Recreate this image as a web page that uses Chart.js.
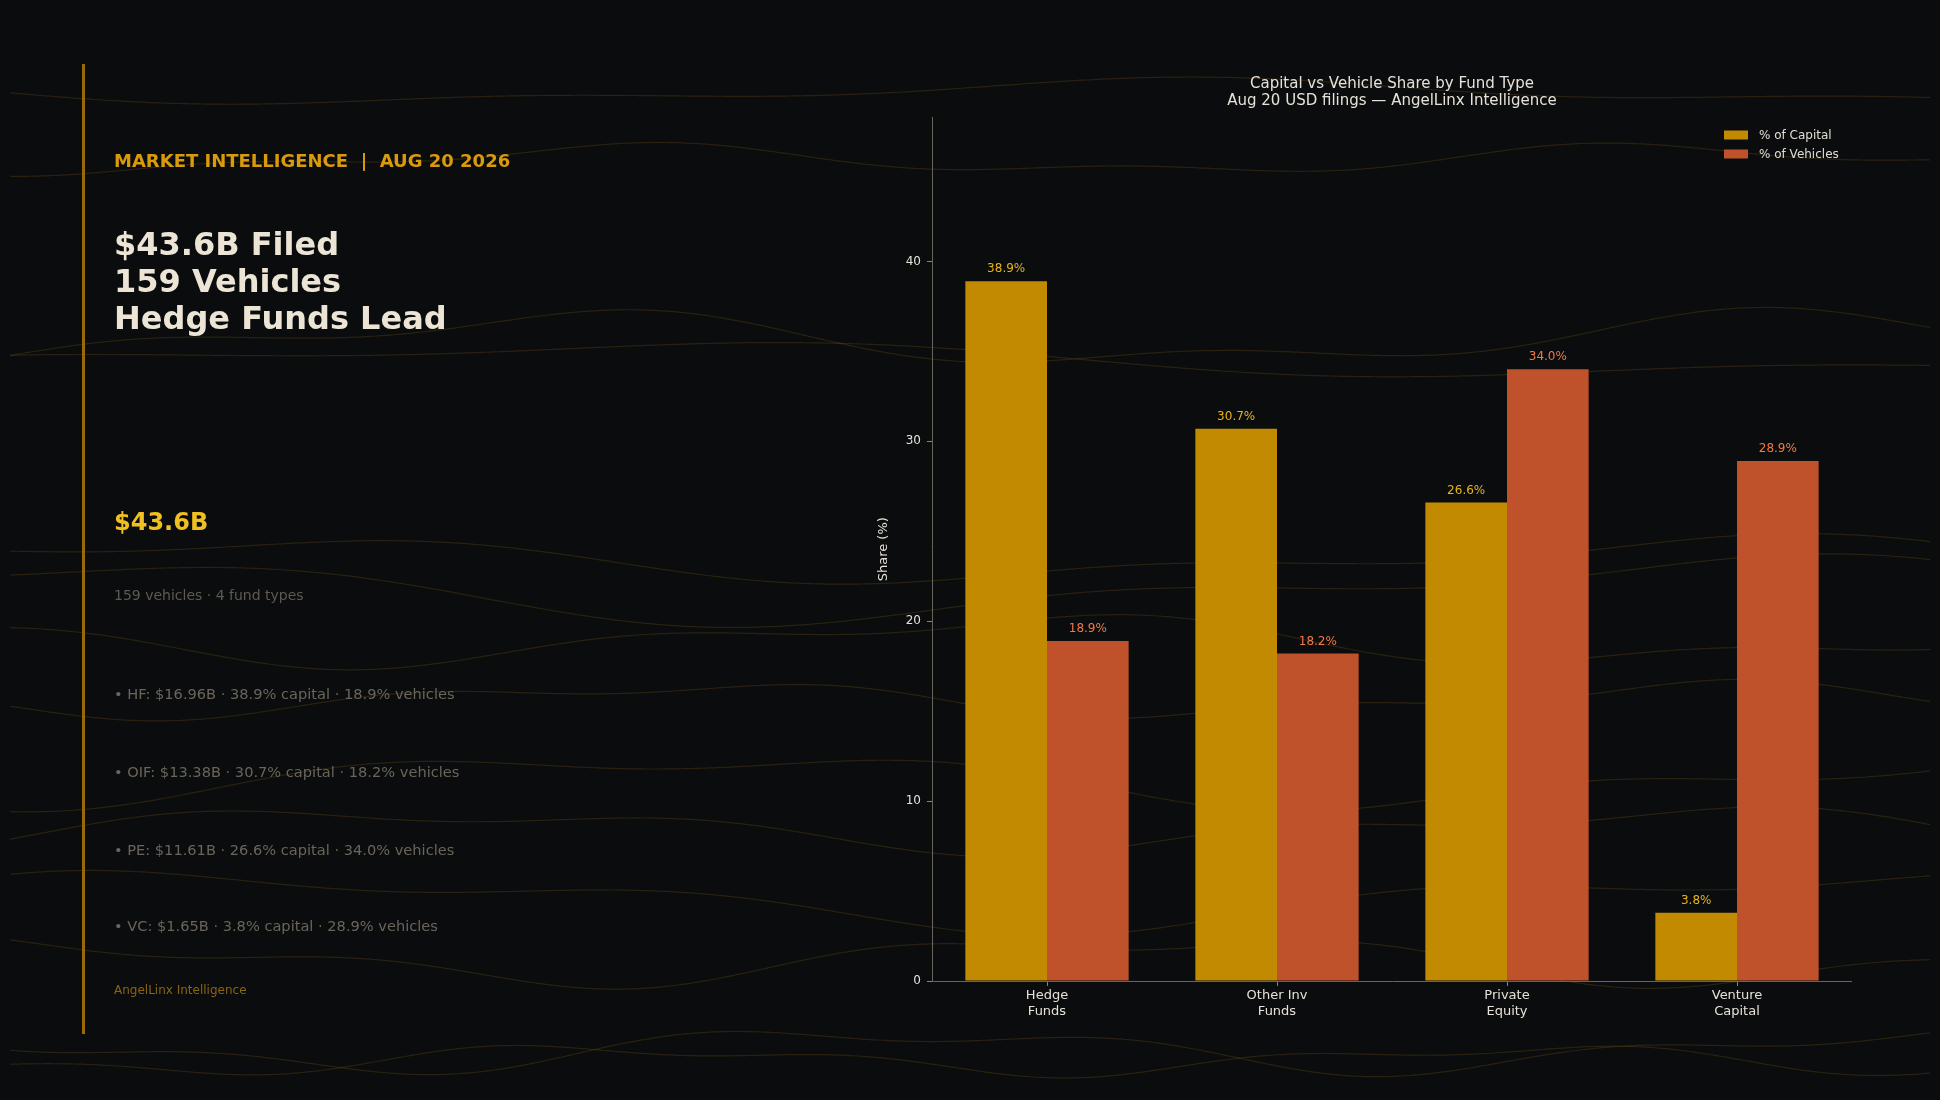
<!DOCTYPE html>
<html>
<head>
<meta charset="utf-8">
<script src="https://cdn.jsdelivr.net/npm/chart.js@4"></script>
<style>
body{margin:0;width:1940px;height:1100px;background:#0a0c0e;overflow:hidden;font-family:"DejaVu Sans",sans-serif;position:relative}
#bg{position:absolute;left:0;top:0}
.t{position:absolute;left:114px;white-space:nowrap;transform:translateY(-50%)}
#wrap{position:absolute;left:874px;top:75px;width:978px;height:966px}
</style>
</head>
<body>
<canvas id="bg" width="1940" height="1100"></canvas>
<div style="position:absolute;left:82px;top:64px;width:3px;height:970px;background:#9a6a08"></div>
<div class="t" style="top:160px;font-size:18px;font-weight:bold;color:#d99a0c">MARKET INTELLIGENCE &nbsp;|&nbsp; AUG 20 2026</div>
<div class="t" style="top:281px;font-size:32px;font-weight:bold;color:#ece4d4;line-height:37px">$43.6B Filed<br>159 Vehicles<br>Hedge Funds Lead</div>
<div class="t" style="top:522px;font-size:24px;font-weight:bold;color:#f0c020">$43.6B</div>
<div class="t" style="top:595px;font-size:14px;color:#5e5a52">159 vehicles · 4 fund types</div>
<div class="t" style="top:693px;font-size:14.6px;color:#6a655b">• HF: $16.96B · 38.9% capital · 18.9% vehicles</div>
<div class="t" style="top:771px;font-size:14.6px;color:#6a655b">• OIF: $13.38B · 30.7% capital · 18.2% vehicles</div>
<div class="t" style="top:849px;font-size:14.6px;color:#6a655b">• PE: $11.61B · 26.6% capital · 34.0% vehicles</div>
<div class="t" style="top:925px;font-size:14.6px;color:#6a655b">• VC: $1.65B · 3.8% capital · 28.9% vehicles</div>
<div class="t" style="top:990px;font-size:12px;color:#8a6410">AngelLinx Intelligence</div>
<div id="wrap"><canvas id="c"></canvas></div>
<script>
var categories = [["Hedge", "Funds"], ["Other Inv", "Funds"], ["Private", "Equity"], ["Venture", "Capital"]];
var capitalShare = [38.9, 30.7, 26.6, 3.8];
var vehicleShare = [18.9, 18.2, 34.0, 28.9];
var seriesNames = ["% of Capital", "% of Vehicles"];
var yTicks = [0, 10, 20, 30, 40];

// faint background waves
var bg = document.getElementById('bg').getContext('2d');
var waves = [[92,10,0.004,0],[160,12,0.006,1],[340,22,0.005,2],[360,14,0.003,3],[560,18,0.004,4],[590,26,0.0035,5],[640,20,0.005,6],[700,14,0.006,7],[780,22,0.0045,8],[830,18,0.005,9],[900,24,0.004,10],[960,20,0.0055,11],[1050,18,0.006,12],[1060,12,0.007,13]];
waves.forEach(function(w){
  bg.beginPath();
  for(var x=10;x<=1930;x+=4){
    var y=w[0]+w[1]*Math.sin(x*w[2]+w[3])+w[1]*0.5*Math.sin(x*w[2]*2.3+w[3]*1.7);
    if(x==10) bg.moveTo(x,y); else bg.lineTo(x,y);
  }
  bg.strokeStyle='rgba(140,100,25,0.25)';
  bg.lineWidth=1.2;
  bg.stroke();
});

var barLabels = {
  id:'barLabels',
  afterDatasetsDraw:function(chart){
    var ctx=chart.ctx;
    var cols=['#e8b41a','#f07a48'];
    chart.data.datasets.forEach(function(ds,i){
      chart.getDatasetMeta(i).data.forEach(function(bar,j){
        ctx.save();
        ctx.fillStyle=cols[i];
        ctx.font='12px "DejaVu Sans"';
        ctx.textAlign='center';
        ctx.textBaseline='bottom';
        ctx.fillText(ds.data[j].toFixed(1)+'%',bar.x,bar.y-6);
        ctx.restore();
      });
    });
  }
};
var boxLegend = {
  id:'boxLegend',
  afterDraw:function(chart){
    var ctx=chart.ctx, a=chart.chartArea;
    chart.data.datasets.forEach(function(ds,i){
      var x=a.right-128, y=a.top+17+i*19;
      ctx.save();
      ctx.fillStyle=ds.backgroundColor;
      ctx.fillRect(x,y-4,24,9);
      ctx.fillStyle='#e0dcd2';
      ctx.font='12px "DejaVu Sans"';
      ctx.textBaseline='middle';
      ctx.fillText(ds.label,x+35,y+1);
      ctx.restore();
    });
  }
};

new Chart(document.getElementById('c'), {
  type:'bar',
  data:{
    labels:categories,
    datasets:[
      {label:seriesNames[0],data:capitalShare,backgroundColor:'#c28a00',categoryPercentage:0.71,barPercentage:1},
      {label:seriesNames[1],data:vehicleShare,backgroundColor:'#c0522b',categoryPercentage:0.71,barPercentage:1}
    ]
  },
  options:{
    responsive:true,
    maintainAspectRatio:false,
    animation:false,
    layout:{padding:{left:0,right:0,top:0,bottom:0}},
    plugins:{
      legend:{display:false},
      tooltip:{enabled:false},
      title:{display:true,fullSize:false,text:['Capital vs Vehicle Share by Fund Type','Aug 20 USD filings — AngelLinx Intelligence'],color:'#e6e2d8',font:{family:'DejaVu Sans',size:15,weight:'normal',lineHeight:1.15},padding:{top:0,bottom:8}}
    },
    scales:{
      x:{
        grid:{display:true,offset:false,drawOnChartArea:false,drawTicks:true,tickLength:5,color:'#8a857b'},
        border:{color:'#6a655b'},
        ticks:{color:'#e6e2d8',font:{family:'DejaVu Sans',size:13},padding:2},
        afterFit:function(s){s.height=60;}
      },
      y:{
        min:0,max:48,
        grid:{display:true,drawOnChartArea:false,drawTicks:true,tickLength:5,color:'#8a857b'},
        border:{color:'#6a655b'},
        afterBuildTicks:function(s){s.ticks=yTicks.map(function(v){return {value:v};});},
        ticks:{color:'#e6e2d8',font:{family:'DejaVu Sans',size:12},padding:6},
        title:{display:true,text:'Share (%)',color:'#e6e2d8',font:{family:'DejaVu Sans',size:13},padding:2},
        afterFit:function(s){s.width=58;}
      }
    }
  },
  plugins:[barLabels,boxLegend]
});
</script>
</body>
</html>
